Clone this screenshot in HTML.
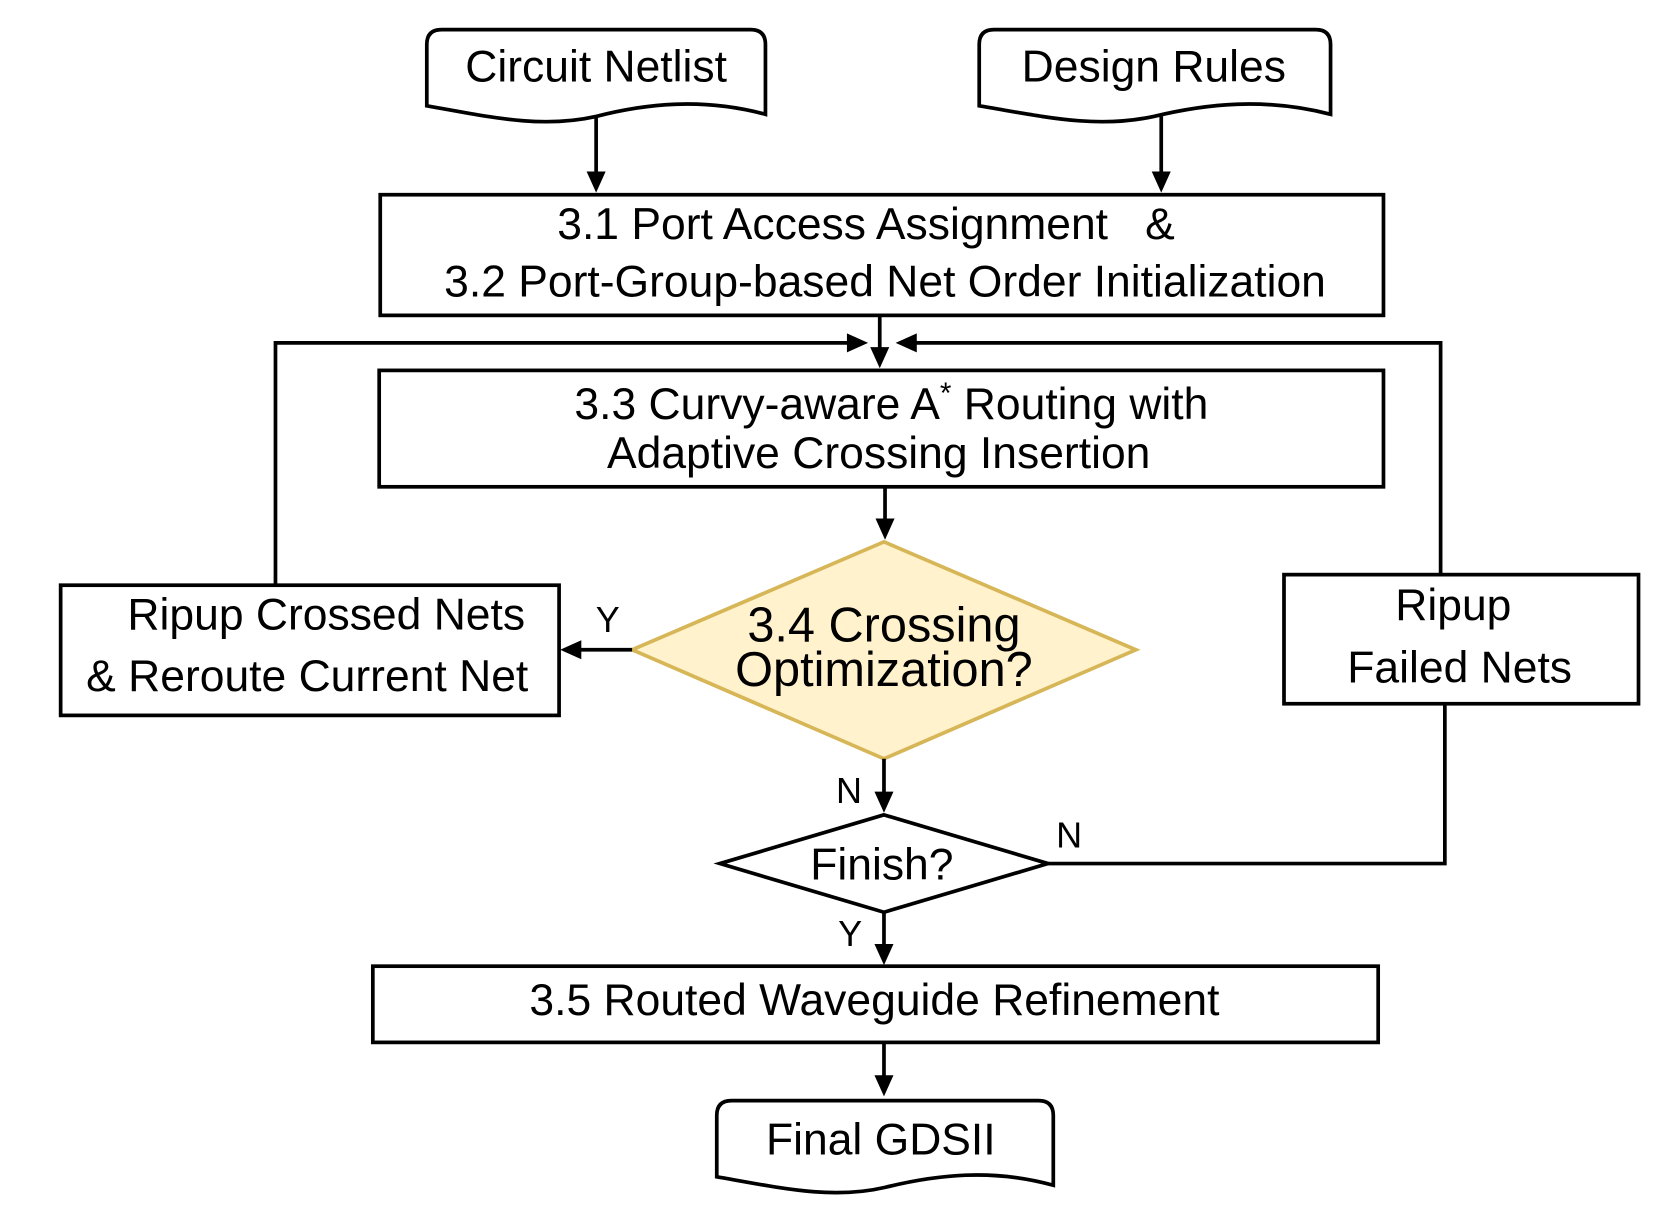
<!DOCTYPE html>
<html><head><meta charset="utf-8"><style>html,body{margin:0;padding:0;background:#fff}svg{display:block}</style></head>
<body>
<svg width="1660" height="1217" viewBox="0 0 1568 1150" xmlns="http://www.w3.org/2000/svg" font-family="Liberation Sans, Arial, sans-serif">
<g fill="none" stroke="#000" stroke-width="3.5">
<path d="M403,100 L403,42 Q403,28 417,28 L709,28 Q723,28 723,42 L723,108 C663,92 610,98 563,110 C510,122 460,110 403,100 Z" fill="#fff"/>
<path d="M925,100 L925,42 Q925,28 939,28 L1243,28 Q1257,28 1257,42 L1257,108 C1195,92 1140,98 1090,110 C1035,122 985,110 925,100 Z" fill="#fff"/>
<path d="M677,1112 L677,1054 Q677,1040 691,1040 L981,1040 Q995,1040 995,1054 L995,1120 C937,1104 885,1110 836,1122 C785,1134 735,1122 677,1112 Z" fill="#fff"/>
<rect x="359" y="184" width="948" height="114"/>
<rect x="358" y="350" width="949" height="110"/>
<rect x="57" y="553" width="471" height="123"/>
<rect x="1213" y="543" width="335" height="122"/>
<rect x="352" y="913" width="950" height="72"/>
<polygon points="835,512 1073,614 835,717 597,614" fill="#fff2cc" stroke="#d6b656"/>
<polygon points="835,770 990,816 835,862 680,816"/>
<line x1="563" y1="110" x2="563" y2="166"/>
<line x1="1097" y1="110" x2="1097" y2="166"/>
<line x1="831" y1="298" x2="831" y2="332"/>
<polyline points="260,552 260,324 804,324"/>
<polyline points="1361,542 1361,324 862,324"/>
<line x1="836" y1="460" x2="836" y2="494"/>
<line x1="597" y1="614" x2="545" y2="614"/>
<line x1="835" y1="717" x2="835" y2="752"/>
<polyline points="990,816 1365,816 1365,665"/>
<line x1="835" y1="862" x2="835" y2="896"/>
<line x1="835" y1="985" x2="835" y2="1020"/>
</g>
<g fill="#000">
<polygon points="554,162 572,162 563,182"/>
<polygon points="1088,162 1106,162 1097,182"/>
<polygon points="822,328 840,328 831,348"/>
<polygon points="800,315 800,333 820,324"/>
<polygon points="866,315 866,333 846,324"/>
<polygon points="827,490 845,490 836,510"/>
<polygon points="549,605 549,623 529,614"/>
<polygon points="826,748 844,748 835,768"/>
<polygon points="826,892 844,892 835,912"/>
<polygon points="826,1016 844,1016 835,1036"/>
</g>
<g font-size="42" text-anchor="middle" fill="#000">
<text x="563" y="77">Circuit Netlist</text>
<text x="1090" y="77">Design Rules</text>
<text x="818" y="226">3.1 Port Access Assignment &#160;&#160;&amp;</text>
<text x="836" y="280">3.2 Port-Group-based Net Order Initialization</text>
<text x="842" y="396">3.3 Curvy-aware A<tspan font-size="28" dy="-15">*</tspan><tspan dy="15"> Routing with</tspan></text>
<text x="830" y="442">Adaptive Crossing Insertion</text>
<text x="308" y="595">Ripup Crossed Nets</text>
<text x="290" y="653">&amp; Reroute Current Net</text>
<text x="1373" y="586">Ripup</text>
<text x="1379" y="645">Failed Nets</text>
<text x="833" y="831">Finish?</text>
<text x="826" y="959">3.5 Routed Waveguide Refinement</text>
<text x="832" y="1091">Final GDSII</text>
<text x="574" y="597" font-size="34">Y</text>
<text x="802" y="759" font-size="34">N</text>
<text x="1010" y="801" font-size="34">N</text>
<text x="803" y="894" font-size="34">Y</text>
<text x="835" y="606" font-size="46">3.4 Crossing</text>
<text x="835" y="648" font-size="46">Optimization?</text>
</g>
</svg>
</body></html>
